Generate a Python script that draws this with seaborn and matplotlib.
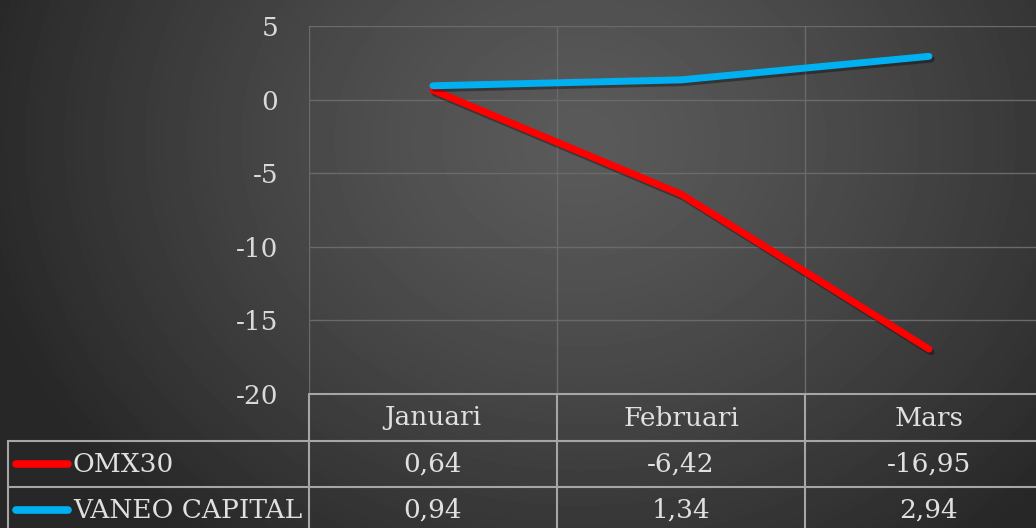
import numpy as np
import pandas as pd
import matplotlib
matplotlib.use("Agg")
import matplotlib.pyplot as plt
import matplotlib.patheffects as pe
import seaborn as sns

months = ["Januari", "Februari", "Mars"]
omx30 = [0.64, -6.42, -16.95]
vaneo = [0.94, 1.34, 2.94]
series_names = ["OMX30", "VANEO CAPITAL"]
series_colors = ["#FF0000", "#00B0F0"]
y_ticks = [5, 0, -5, -10, -15, -20]

sns.set_theme(style="dark")
plt.rcParams["font.family"] = ["DejaVu Serif"]
plt.rcParams["axes.unicode_minus"] = False

W, H = 1036, 528
fig = plt.figure(figsize=(W / 100, H / 100), dpi=100)

# radial gradient background
bg = fig.add_axes([0, 0, 1, 1], zorder=-10)
yy, xx = np.mgrid[0:H, 0:W]
cx, cy = 580, 140
r = np.sqrt(((xx - cx) / 620.0) ** 2 + ((yy - cy) / 520.0) ** 2)
r = np.clip(r, 0, 1)
lo, hi = 0x27 / 255, 0x5a / 255
img = hi - (hi - lo) * r ** 1.3
bg.imshow(img, cmap="gray", vmin=0, vmax=1, aspect="auto", extent=[0, W, H, 0])
bg.set_axis_off()

left_px, right_px = 309, 1053
top_px, bot_px = 26, 394
ax = fig.add_axes([left_px / W, (H - bot_px) / H, (right_px - left_px) / W, (bot_px - top_px) / H])
ax.set_facecolor("none")

df = pd.DataFrame({
    "x": list(range(len(months))) * 2,
    "value": omx30 + vaneo,
    "series": [series_names[0]] * 3 + [series_names[1]] * 3,
})
sns.lineplot(data=df, x="x", y="value", hue="series", palette=series_colors,
             linewidth=5.0, ax=ax, legend=False)
for ln in ax.get_lines():
    ln.set_solid_capstyle("round")
    ln.set_solid_joinstyle("round")
    ln.set_path_effects([pe.SimpleLineShadow(offset=(1.5, -2.0), alpha=0.35, shadow_color="black"), pe.Normal()])

ax.set_xlim(-0.5, len(months) - 0.5)
ax.set_ylim(-20, 5)
ax.set_yticks(y_ticks)
ax.set_yticklabels([str(t) for t in y_ticks])
ax.set_xticks([])
ax.set_xlabel("")
ax.set_ylabel("")
ax.tick_params(axis="y", colors="#d9d9d9", labelsize=19, pad=22, length=0)
for s in ax.spines.values():
    s.set_visible(False)
grid_c = "#6a6a6a"
for t in y_ticks:
    if t > -20:
        ax.axhline(t, color=grid_c, lw=1.0, zorder=0)
for b in np.arange(-0.5, len(months) - 0.4, 1.0):
    ax.axvline(b, color=grid_c, lw=1.0, zorder=0)

# data table below the axes
trans = ax.get_xaxis_transform()
tc = "#a6a6a6"
txtc = "#e0e0e0"
ah = bot_px - top_px
def fy(py):
    return (bot_px - py) / ah
def fx(px):
    return -0.5 + (px - left_px) / 248.0

ax.plot([-0.5, 3.0], [fy(394)] * 2, transform=trans, color=tc, lw=1.5, clip_on=False)
for py in [441, 487]:
    ax.plot([fx(8), 3.0], [fy(py)] * 2, transform=trans, color=tc, lw=1.5, clip_on=False)
for b in [-0.5, 0.5, 1.5]:
    ax.plot([b, b], [fy(394), fy(540)], transform=trans, color=tc, lw=1.5, clip_on=False)
ax.plot([fx(8), fx(8)], [fy(441), fy(540)], transform=trans, color=tc, lw=1.5, clip_on=False)

fs = 19
for i, m in enumerate(months):
    ax.text(i, fy(418), m, transform=trans, ha="center", va="center", color=txtc, fontsize=fs)
series_vals = [omx30, vaneo]
row_centers = [464, 510]
for k, (name, vals, col) in enumerate(zip(series_names, series_vals, series_colors)):
    yc = fy(row_centers[k])
    ax.plot([fx(16), fx(68)], [yc, yc], transform=trans, color=col, lw=5.5,
            solid_capstyle="round", clip_on=False)
    ax.text(fx(73), yc, name, transform=trans, ha="left", va="center", color=txtc, fontsize=fs)
    for i, v in enumerate(vals):
        ax.text(i, yc, f"{v:.2f}".replace(".", ","), transform=trans, ha="center", va="center",
                color=txtc, fontsize=fs)

fig.savefig("out.png", dpi=100)
